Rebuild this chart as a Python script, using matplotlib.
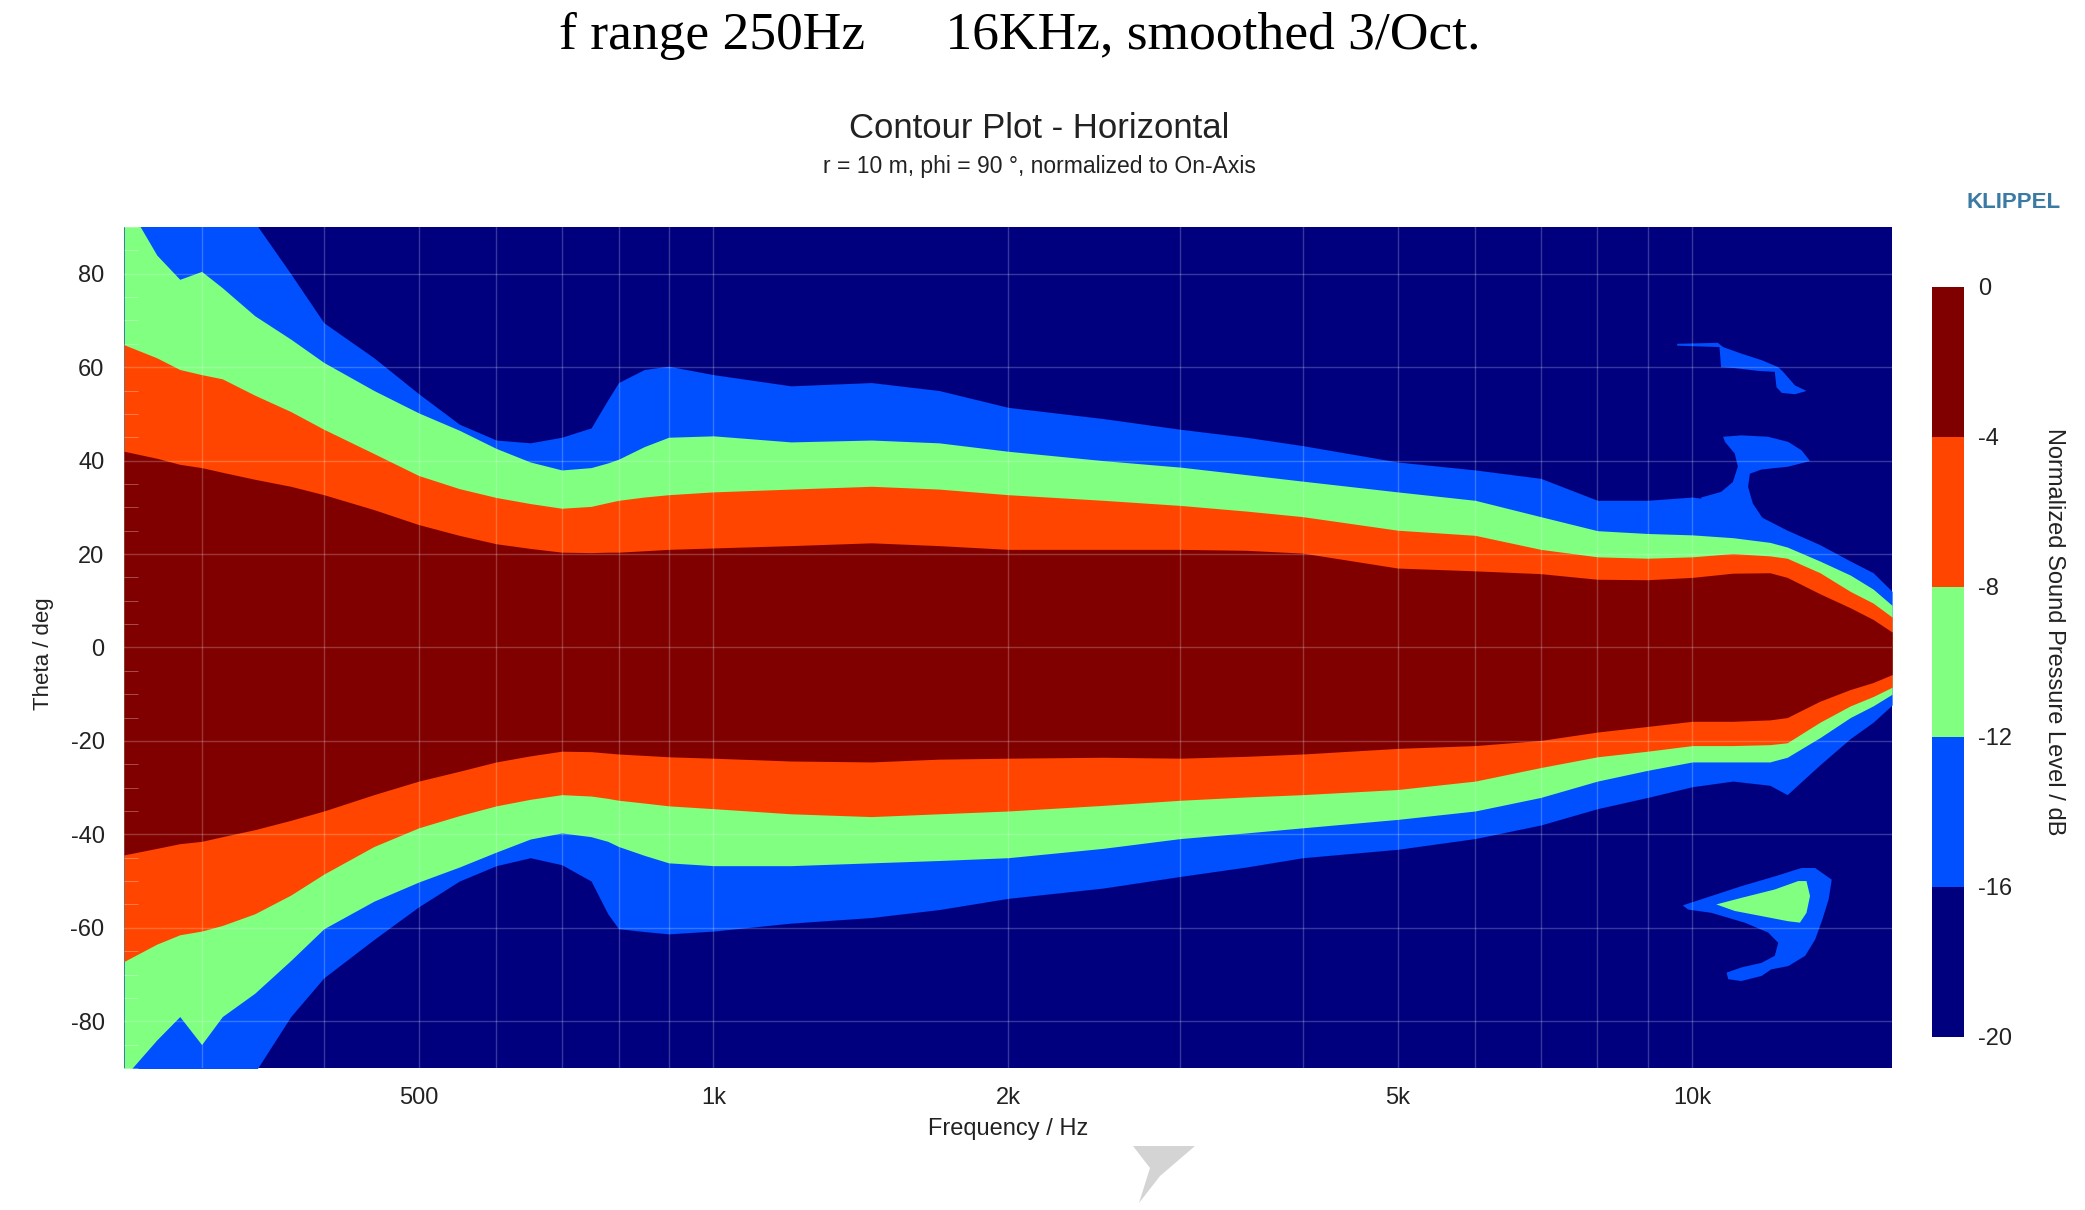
import numpy as np
import matplotlib
matplotlib.use("Agg")
import matplotlib.pyplot as plt
from matplotlib.colors import ListedColormap, BoundaryNorm
from matplotlib.cm import ScalarMappable
from matplotlib.patches import Polygon

# frequency nodes (Hz) and contour boundaries (deg)
freq = [250, 270, 285, 300, 315, 340, 370, 400, 450, 500, 550, 600, 650, 700,
        750, 780, 800, 850, 900, 1000, 1200, 1450, 1700, 2000, 2500, 3000,
        3500, 4000, 5000, 6000, 7000, 8000, 9000, 10000, 11000, 12000, 12500,
        13500, 14500, 15300, 16000]

up4 = [42, 40.5, 39.2, 38.5, 37.5, 36, 34.5, 32.7, 29.5, 26.3, 24, 22.2, 21.2,
       20.4, 20.3, 20.4, 20.4, 20.7, 21, 21.3, 21.8, 22.4, 21.8, 21, 21, 21,
       20.8, 20.2, 17, 16.4, 15.8, 14.6, 14.5, 15, 15.9, 16, 15, 11.5, 8.5,
       6, 3.3]
up8 = [64.8, 62, 59.5, 58.4, 57.5, 54, 50.5, 46.7, 41.5, 36.8, 34, 32.1, 30.8,
       29.8, 30.2, 31, 31.5, 32.2, 32.7, 33.3, 33.9, 34.5, 33.9, 32.7, 31.5,
       30.4, 29.2, 28, 25.1, 24, 21, 19.4, 19.1, 19.4, 20.1, 19.6, 19.1, 16,
       12, 9.5, 6.5]
up12 = [96, 84, 78.8, 80.5, 77, 71, 66, 61, 55, 50.2, 46.5, 42.6, 39.7, 38,
        38.5, 39.5, 40.3, 43, 45, 45.3, 44, 44.4, 43.8, 42, 40, 38.6, 37, 35.6,
        33.3, 31.5, 28, 25, 24.4, 24.1, 23.5, 22.5, 21.5, 18.5, 15.5, 12.5, 9]
up16 = [110, 105, 100, 97, 95, 91, 80, 69.5, 62, 54.3, 47.8, 44.4, 43.8, 45,
        47, 53, 56.7, 59.5, 60.2, 58.4, 56, 56.7, 55, 51.4, 49, 46.7, 45,
        43.2, 39.7, 38, 36.2, 31.5, 31.5, 32.2, 31, 27, 25.1, 22, 18.5, 16, 12]

lo4 = [-44.4, -43, -42, -41.5, -40.5, -39, -37, -35, -31.5, -28.6, -26.5,
       -24.5, -23.2, -22.2, -22.3, -22.6, -22.8, -23.1, -23.4, -23.7, -24.3,
       -24.5, -23.9, -23.7, -23.5, -23.7, -23.3, -22.8, -21.6, -21, -19.9,
       -18.1, -16.9, -15.8, -15.8, -15.5, -15, -11.5, -9, -7.5, -5.8]
lo8 = [-67.2, -63.5, -61.5, -60.7, -59.5, -57, -53, -48.5, -42.6, -38.6, -36,
       -33.9, -32.5, -31.5, -31.8, -32.3, -32.7, -33.3, -33.9, -34.5, -35.6,
       -36.2, -35.6, -35, -33.8, -32.7, -32, -31.5, -30.4, -28.6, -25.7,
       -23.4, -22.2, -21, -21, -20.8, -20.4, -16, -12.5, -10.5, -8.5]
lo12 = [-92, -84, -79, -85, -79, -74, -67, -60.2, -54.3, -50.2, -47, -43.8,
        -41, -39.7, -40.5, -41.5, -42.6, -44.5, -46.1, -46.7, -46.7, -46.1,
        -45.6, -45, -43, -40.9, -39.7, -38.6, -36.8, -35, -32.1, -28.6, -26.3,
        -24.5, -24.5, -24.5, -23.5, -19.3, -15, -12.5, -10]
lo16 = [-110, -105, -100, -97, -95, -91, -79, -70.7, -62.5, -55.5, -50, -46.7,
        -45, -46.5, -50, -57, -60.2, -60.8, -61.3, -60.7, -59, -57.8, -56.1,
        -53.7, -51.5, -49, -47, -45, -43.2, -40.9, -38, -34.5, -32.1, -29.8,
        -28.6, -29.5, -31.5, -25.1, -19.5, -16, -12.3]

# islands near 10-13 kHz (outlines as freq / theta)
neck_f = [10210, 10700, 11000, 11130, 11050, 10800, 10750, 11220, 11950,
          12530, 12930, 13190, 12530, 11770, 11450, 11400, 11530, 11770,
          12140, 10210]
neck_t = [32.1, 33.3, 35.4, 38.7, 41.5, 44.0, 45.1, 45.4, 45.1, 44.0, 42.2,
          39.9, 38.7, 38.1, 37.2, 34.4, 30.8, 28.0, 24.4, 25]
sliver_f = [9650, 10620, 10750, 11220, 11770, 12240, 12380, 12730, 13080,
            12730, 12340, 12190, 12140, 11670, 11050, 10700, 10660, 9650]
sliver_t = [65.0, 65.2, 64.3, 62.9, 61.5, 60.0, 59.0, 56.1, 54.9, 54.2, 54.5,
            55.7, 59.0, 59.2, 59.8, 60.0, 64.3, 64.6]
low_f = [9780, 10460, 11220, 12140, 12930, 13350, 13880, 13780, 13580, 13350,
         13040, 12530, 12040, 11770, 11220, 10880, 10840, 11220, 11770, 12140,
         12240, 11950, 11310, 10460, 9900]
low_t = [-55.2, -53.2, -51.1, -49.0, -47.2, -47.2, -49.7, -53.9, -58.2, -62.5,
         -66.0, -68.2, -68.9, -70.3, -71.4, -71.0, -69.6, -68.5, -67.5, -66.0,
         -63.2, -61.0, -58.9, -56.8, -56.1]
core_f = [10580, 11220, 12140, 12830, 13080, 13190, 13080, 12880, 12530,
          11770, 11050]
core_t = [-55.0, -53.6, -51.8, -50.0, -50.0, -53.2, -56.8, -58.9, -58.6,
          -57.5, -56.4]

levels = [-20, -16, -12, -8, -4, 0]
colors = ["#00007f", "#0050ff", "#80ff80", "#ff4500", "#800000"]
grid_f = [300, 400, 500, 600, 700, 800, 900, 1000, 2000, 3000, 4000, 5000,
          6000, 7000, 8000, 9000, 10000]

plt.rcParams["font.family"] = ["Liberation Sans", "DejaVu Sans"]
plt.rcParams["axes.unicode_minus"] = False
txt = "#222222"

fig = plt.figure(figsize=(20.85, 12.10), dpi=100)
ax = fig.add_axes([0.0595, 0.1174, 0.848, 0.695])
ax.set_facecolor(colors[0])
ax.set_xscale("log")

ax.fill_between(freq, lo16, up16, color=colors[1], lw=0)
ax.fill(neck_f, neck_t, color=colors[1], lw=0)
ax.fill(sliver_f, sliver_t, color=colors[1], lw=0)
ax.fill(low_f, low_t, color=colors[1], lw=0)
ax.fill(core_f, core_t, color=colors[2], lw=0)
ax.fill_between(freq, lo12, up12, color=colors[2], lw=0)
ax.fill_between(freq, lo8, up8, color=colors[3], lw=0)
ax.fill_between(freq, lo4, up4, color=colors[4], lw=0)

for f in grid_f:
    ax.axvline(f, color="white", alpha=0.22, lw=1)
for t in range(-80, 81, 20):
    ax.axhline(t, color="white", alpha=0.22, lw=1)

ax.set_xlim(250, 16000)
ax.set_ylim(-90, 90)
ax.set_xticks([500, 1000, 2000, 5000, 10000])
ax.set_xticklabels(["500", "1k", "2k", "5k", "10k"])
ax.xaxis.set_minor_locator(matplotlib.ticker.NullLocator())
ax.set_yticks(range(-80, 81, 20))
ax.set_yticks(np.arange(-90, 91, 5), minor=True)
ax.tick_params(which="major", length=0, labelsize=17, colors=txt, pad=14)
ax.tick_params(axis="y", which="minor", direction="in", length=10,
               color=(1, 1, 1, 0.35))
for s in ax.spines.values():
    s.set_visible(False)

# colour bar
cax = fig.add_axes([0.9266, 0.143, 0.0153, 0.62])
cmap = ListedColormap(colors)
norm = BoundaryNorm(levels, cmap.N)
cb = fig.colorbar(ScalarMappable(norm=norm, cmap=cmap), cax=cax, ticks=levels)
cb.outline.set_visible(False)
cax.tick_params(length=0, labelsize=17, pad=10, colors=txt)

fig.text(1020 / 2085, 1 - 36 / 1210, "f range 250Hz      16KHz, smoothed 3/Oct.",
         family="Liberation Serif", fontsize=38.5, ha="center", va="center")
fig.text(1039 / 2085, 1 - 128 / 1210, "Contour Plot - Horizontal",
         fontsize=25, ha="center", va="center", color=txt)
fig.text(1039 / 2085, 1 - 167 / 1210,
         "r = 10 m, phi = 90 °, normalized to On-Axis",
         fontsize=16.5, ha="center", va="center", color=txt)
fig.text(2014 / 2085, 1 - 203 / 1210, "KLIPPEL", fontsize=16,
         fontweight="bold", color="#3a7aa3", ha="center", va="center")
fig.text(44 / 2085, 1 - 654 / 1210, "Theta / deg", rotation=90, fontsize=16,
         ha="center", va="center", color=txt)
fig.text(1008 / 2085, 1 - 1129 / 1210, "Frequency / Hz", fontsize=17,
         ha="center", va="center", color=txt)
fig.text(2054 / 2085, 1 - 632 / 1210, "Normalized Sound Pressure Level / dB",
         rotation=270, fontsize=17, ha="center", va="center", color=txt)

# grey watermark mark under the axis label
fig.patches.append(Polygon([(1133 / 2085, 1 - 1146 / 1210),
                            (1195 / 2085, 1 - 1146 / 1210),
                            (1160 / 2085, 1 - 1176 / 1210),
                            (1139 / 2085, 1 - 1203 / 1210),
                            (1150 / 2085, 1 - 1168 / 1210)],
                           closed=True, transform=fig.transFigure,
                           facecolor="#d4d4d4", edgecolor="none"))

fig.savefig("out.png", dpi=100, facecolor="white")
